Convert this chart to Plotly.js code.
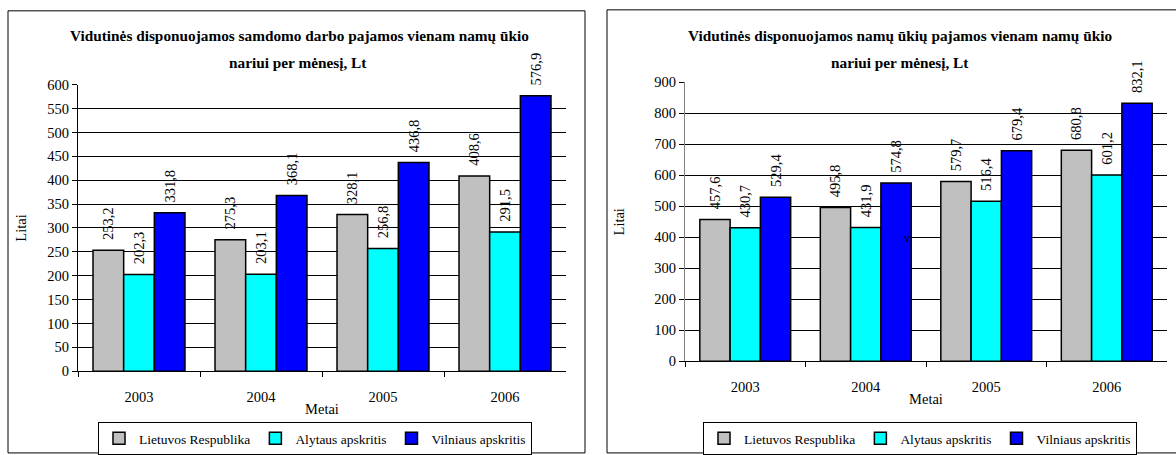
<!DOCTYPE html>
<html>
<head>
<meta charset="utf-8">
<script src="https://cdn.plot.ly/plotly-3.0.1.min.js"></script>
<style>html,body{margin:0;padding:0;background:#fff;}#chart{width:1176px;height:455px;}</style>
</head>
<body>
<div id="chart"></div>
<script>
// ---- data ----
const years = ['2003', '2004', '2005', '2006'];
const seriesNames = ['Lietuvos Respublika', 'Alytaus apskritis', 'Vilniaus apskritis'];

// Left chart: samdomo darbo pajamos
const wageLR = [253.2, 275.3, 328.1, 408.6];
const wageAlytus = [202.3, 203.1, 256.8, 291.5];
const wageVilnius = [331.8, 368.1, 436.8, 576.9];

// Right chart: namų ūkių pajamos
const hhLR = [457.6, 495.8, 579.7, 680.8];
const hhAlytus = [430.7, 431.9, 516.4, 601.2];
const hhVilnius = [529.4, 574.8, 679.4, 832.1];

const leftTitle = ['Vidutinės disponuojamos samdomo darbo pajamos vienam namų ūkio', 'nariui per mėnesį, Lt'];
const rightTitle = ['Vidutinės disponuojamos namų ūkių pajamos vienam namų ūkio', 'nariui per mėnesį, Lt'];
const yTitle = 'Litai';
const xTitle = 'Metai';

// ---- styling ----
const W = 1176, H = 455;
const px = x => x / W;
const py = y => 1 - y / H;
const FONT = 'Liberation Serif, Times New Roman, serif';
const colors = ['#C0C0C0', '#00FFFF', '#0000FF'];

function mk(name, vals, i, xa, ya, lg) {
  return {
    type: 'bar', name: name, x: years, y: vals,
    xaxis: xa, yaxis: ya, legend: lg,
    marker: {color: colors[i], line: {color: '#000', width: 1.5}},
    texttemplate: '\u00A0\u00A0%{y:.1f}', textposition: 'outside', textangle: -90,
    textfont: {family: FONT, size: 14.5, color: '#000'},
    constraintext: 'none', cliponaxis: false, hoverinfo: 'x+y+name'
  };
}

const data = [
  mk(seriesNames[0], wageLR, 0, 'x', 'y', 'legend'),
  mk(seriesNames[1], wageAlytus, 1, 'x', 'y', 'legend'),
  mk(seriesNames[2], wageVilnius, 2, 'x', 'y', 'legend'),
  mk(seriesNames[0], hhLR, 0, 'x2', 'y2', 'legend2'),
  mk(seriesNames[1], hhAlytus, 1, 'x2', 'y2', 'legend2'),
  mk(seriesNames[2], hhVilnius, 2, 'x2', 'y2', 'legend2')
];

const tickFont = {family: FONT, size: 14.5, color: '#000'};
function xAxis(d, anchor) {
  return {
    domain: d, anchor: anchor, type: 'category',
    showline: true, linecolor: '#000', linewidth: 1,
    ticks: 'outside', tickson: 'boundaries', ticklen: 5, tickcolor: '#000',
    ticklabelstandoff: 12,
    showgrid: false, tickfont: tickFont, fixedrange: true,
    title: {text: xTitle, font: tickFont, standoff: 0}
  };
}
function yAxis(d, anchor, range, dtick, lc, so) {
  return {
    domain: d, anchor: anchor, range: range, dtick: dtick,
    showline: true, linecolor: lc, linewidth: 1,
    ticks: 'outside', ticklen: 5, tickcolor: '#000',
    showgrid: true, gridcolor: '#000', gridwidth: 1,
    zeroline: false, tickfont: tickFont, fixedrange: true,
    title: {text: yTitle, font: tickFont, standoff: so}
  };
}

const titleFont = {family: FONT, size: 15.3, color: '#000'};
function ann(text, x, y, font) {
  return {text: text, x: px(x), y: py(y), xref: 'paper', yref: 'paper',
          xanchor: 'center', yanchor: 'middle', showarrow: false, font: font};
}

const legendFont = {family: FONT, size: 13.5, color: '#000'};
const layout = {
  width: W, height: H,
  margin: {l: 0, r: 0, t: 0, b: 0},
  paper_bgcolor: '#fff', plot_bgcolor: '#fff',
  separators: ', ',
  barmode: 'group', bargap: 0.246, bargroupgap: 0,
  font: {family: FONT, color: '#000'},
  xaxis: xAxis([px(78), px(566)], 'y'),
  yaxis: yAxis([py(377), py(86)], 'x', [0, 600], 50, '#000', 17),
  xaxis2: xAxis([px(685), px(1167)], 'y2'),
  yaxis2: yAxis([py(367), py(83.5)], 'x2', [0, 900], 100, '#808080', 26),
  legend: {orientation: 'h', x: px(98), y: py(429), xanchor: 'left', yanchor: 'top',
           bordercolor: '#000', borderwidth: 1, bgcolor: '#fff', itemwidth: 30,
           font: legendFont, traceorder: 'normal', tracegroupgap: 0},
  legend2: {orientation: 'h', x: px(703), y: py(429), xanchor: 'left', yanchor: 'top',
           bordercolor: '#000', borderwidth: 1, bgcolor: '#fff', itemwidth: 30,
           font: legendFont, traceorder: 'normal', tracegroupgap: 0},
  annotations: [
    ann('<b>' + leftTitle[0] + '</b>', 299, 36, titleFont),
    ann('<b>' + leftTitle[1] + '</b>', 298, 63, titleFont),
    ann('<b>' + rightTitle[0] + '</b>', 900, 36, titleFont),
    ann('<b>' + rightTitle[1] + '</b>', 900, 63, titleFont),
    ann('v', 907, 242, {family: FONT, size: 12, color: '#000'})
  ],
  shapes: [
    {type: 'rect', xref: 'paper', yref: 'paper', x0: px(8), x1: px(585), y0: py(460), y1: py(11),
     line: {color: '#000', width: 1}, layer: 'below'},
    {type: 'rect', xref: 'paper', yref: 'paper', x0: px(607), x1: px(1180), y0: py(460), y1: py(10),
     line: {color: '#000', width: 1}, layer: 'below'}
  ],
  showlegend: true
};

Plotly.newPlot('chart', data, layout, {displayModeBar: false, staticPlot: true});
</script>
</body>
</html>
